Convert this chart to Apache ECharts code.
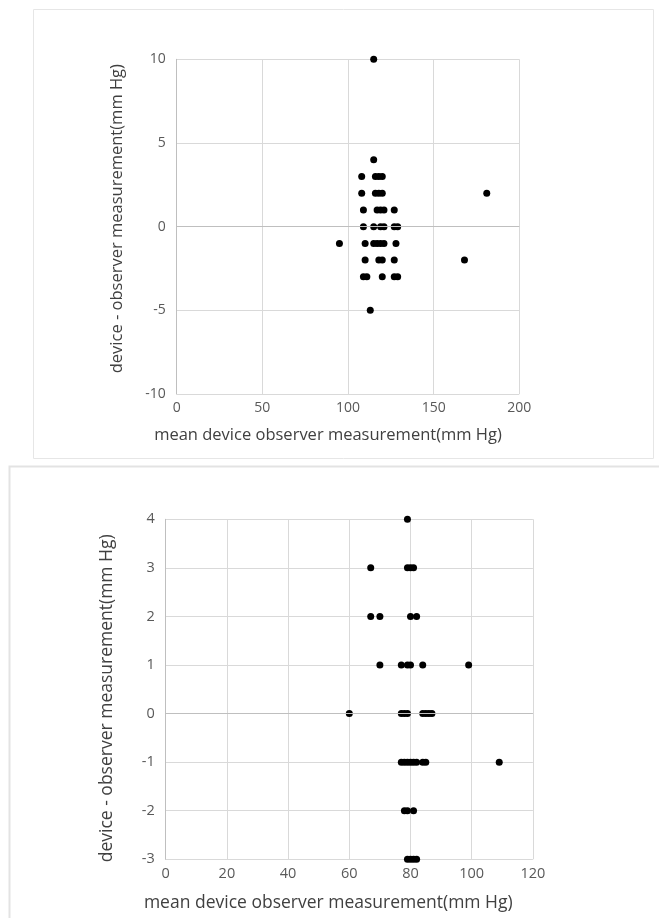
<!DOCTYPE html>
<html>
<head>
<meta charset="utf-8">
<script src="https://cdn.jsdelivr.net/npm/echarts@6/dist/echarts.min.js"></script>
<style>
  html, body { margin: 0; padding: 0; background: #ffffff; }
  #chart { width: 659px; height: 918px; }
</style>
</head>
<body>
<div id="chart"></div>
<script>
// Upper panel: difference vs. mean, points grouped by difference row
const topMeans = [
  115, 115,
  108, 116, 118, 120,
  108, 116, 118, 120, 181,
  109, 117, 119, 121, 127,
  109, 115, 119, 121, 127, 129,
  95, 110, 115, 117, 119, 121, 128,
  110, 118, 120, 127, 168,
  109, 111, 120, 127, 129,
  113
];
const topDiffs = [
  10, 4,
  3, 3, 3, 3,
  2, 2, 2, 2, 2,
  1, 1, 1, 1, 1,
  0, 0, 0, 0, 0, 0,
  -1, -1, -1, -1, -1, -1, -1,
  -2, -2, -2, -2, -2,
  -3, -3, -3, -3, -3,
  -5
];
const topXTicks = [0, 50, 100, 150, 200];
const topYTicks = [-10, -5, 0, 5, 10];

// Lower panel
const bottomMeans = [
  79,
  67, 79, 80, 81,
  67, 70, 80, 82,
  70, 77, 79, 80, 84, 99,
  60, 77, 78, 79, 84, 85, 86, 87,
  77, 78, 79, 80, 81, 82, 84, 85, 109,
  78, 79, 81,
  79, 80, 81, 82
];
const bottomDiffs = [
  4,
  3, 3, 3, 3,
  2, 2, 2, 2,
  1, 1, 1, 1, 1, 1,
  0, 0, 0, 0, 0, 0, 0, 0,
  -1, -1, -1, -1, -1, -1, -1, -1, -1,
  -2, -2, -2,
  -3, -3, -3, -3
];
const bottomXTicks = [0, 20, 40, 60, 80, 100, 120];
const bottomYTicks = [-3, -2, -1, 0, 1, 2, 3, 4];

const xTitle = 'mean device observer measurement(mm Hg)';
const yTitle = 'device - observer measurement(mm Hg)';

const FONT = '"Open Sans", "Noto Sans", sans-serif';
const gridColor = '#d9d9d9';
const labelColor = '#595959';
const titleColor = '#404040';

function pairs(xs, ys) {
  return xs.map((x, i) => [x, ys[i]]);
}

// The x title sits centred on the whole panel, a little left of the plot centre
function xAxisFor(gridIndex, ticks, o) {
  return {
    gridIndex,
    type: 'value',
    min: ticks[0],
    max: ticks[ticks.length - 1],
    interval: ticks[1] - ticks[0],
    name: xTitle,
    nameLocation: 'middle',
    nameGap: o.nameGap,
    nameTextStyle: {
      fontFamily: FONT, fontSize: o.titleSize, color: titleColor,
      padding: [0, o.shift * 2, 0, 0]
    },
    axisLine: { show: false },
    axisTick: { show: false },
    axisLabel: { fontFamily: FONT, fontSize: o.labelSize, color: labelColor, margin: 7 },
    splitLine: { show: true, lineStyle: { color: gridColor, width: 1 } }
  };
}

// Positive shift moves the rotated title up, negative moves it down
function yAxisFor(gridIndex, ticks, o) {
  const pad = o.shift >= 0 ? [0, 0, 0, o.shift * 2] : [0, -o.shift * 2, 0, 0];
  return {
    gridIndex,
    type: 'value',
    min: ticks[0],
    max: ticks[ticks.length - 1],
    interval: ticks[1] - ticks[0],
    name: yTitle,
    nameLocation: 'middle',
    nameGap: o.nameGap,
    nameTextStyle: {
      fontFamily: FONT, fontSize: o.titleSize, color: titleColor,
      padding: pad
    },
    axisLine: { show: true, lineStyle: { color: '#bfbfbf', width: 1 } },
    axisTick: { show: false },
    axisLabel: { fontFamily: FONT, fontSize: o.labelSize, color: labelColor, margin: 11 },
    splitLine: { show: true, lineStyle: { color: gridColor, width: 1 } }
  };
}

function scatterSeries(idx, data) {
  return {
    type: 'scatter',
    xAxisIndex: idx,
    yAxisIndex: idx,
    data,
    symbol: 'circle',
    symbolSize: 7,
    itemStyle: { color: '#000000', opacity: 1 },
    silent: true,
    markLine: {
      silent: true,
      symbol: 'none',
      label: { show: false },
      lineStyle: { color: '#bfbfbf', type: 'solid', width: 1 },
      data: [{ yAxis: 0 }]
    },
    z: 3
  };
}

const chart = echarts.init(document.getElementById('chart'), null, { renderer: 'canvas' });

chart.setOption({
  backgroundColor: '#ffffff',
  animation: false,
  graphic: [
    {
      type: 'rect',
      shape: { x: 33.5, y: 9.5, width: 620, height: 449 },
      style: { fill: 'none', stroke: '#e6e6e6', lineWidth: 1 },
      z: 0
    },
    {
      type: 'rect',
      shape: { x: 9.5, y: 466.5, width: 660, height: 460 },
      style: { fill: 'none', stroke: '#e3e3e3', lineWidth: 2 },
      z: 0
    }
  ],
  grid: [
    { left: 176.7, right: 139.7, top: 59.3, bottom: 524 },
    { left: 165.7, right: 126.1, top: 519.3, bottom: 58.7 }
  ],
  xAxis: [
    xAxisFor(0, topXTicks, { nameGap: 33, titleSize: 16.5, labelSize: 14, shift: 20 }),
    xAxisFor(1, bottomXTicks, { nameGap: 35, titleSize: 17.5, labelSize: 14.5, shift: 21 })
  ],
  yAxis: [
    yAxisFor(0, topYTicks, { nameGap: 51, titleSize: 16.5, labelSize: 14, shift: 8 }),
    yAxisFor(1, bottomYTicks, { nameGap: 50, titleSize: 17.5, labelSize: 14.5, shift: -9 })
  ],
  series: [
    scatterSeries(0, pairs(topMeans, topDiffs)),
    scatterSeries(1, pairs(bottomMeans, bottomDiffs))
  ]
});
</script>
</body>
</html>
